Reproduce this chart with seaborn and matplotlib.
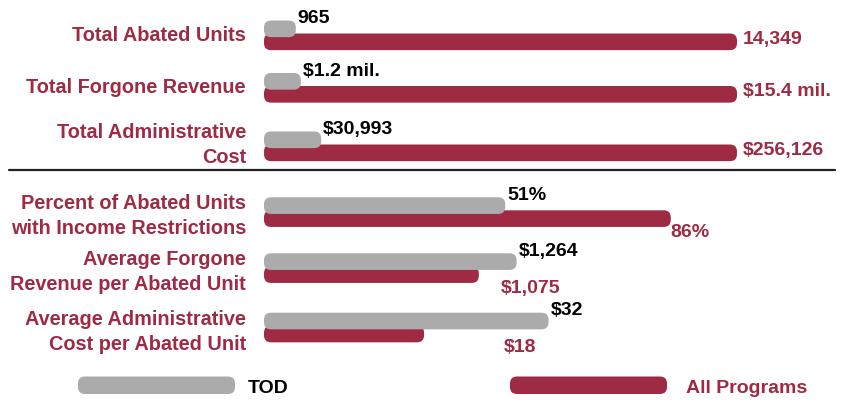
import matplotlib
matplotlib.use("Agg")
import matplotlib.pyplot as plt
import seaborn as sns
import pandas as pd
from matplotlib.patches import FancyBboxPatch
from matplotlib.lines import Line2D

# ---------------- data ----------------
metrics = [
    "Total Abated Units",
    "Total Forgone Revenue",
    "Total Administrative\nCost",
    "Percent of Abated Units\nwith Income Restrictions",
    "Average Forgone\nRevenue per Abated Unit",
    "Average Administrative\nCost per Abated Unit",
]
series = ["TOD", "All Programs"]
tod_values = [965, 1.2, 30993, 51, 1264, 32]
all_values = [14349, 15.4, 256126, 86, 1075, 18]
tod_labels = ["965", "$1.2 mil.", "$30,993", "51%", "$1,264", "$32"]
all_labels = ["14,349", "$15.4 mil.", "$256,126", "86%", "$1,075", "$18"]
# full-width value of each row's own x scale
row_scale_max = [14349, 15.4, 256126, 100, 2367, 53.2]

# ---------------- style ----------------
sns.set_theme(style="white")
plt.rcParams["font.family"] = ["Liberation Sans", "DejaVu Sans"]
plt.rcParams["font.weight"] = "bold"

W, H = 846, 403
GRAY = "#ababab"
RED = "#9e2a43"
FS = 14
FS_LAB = 14.3
AX_LEFT, AX_RIGHT = 264, 737
UNIT = 13.0          # px per category unit
BAR_W = 1.28         # bar thickness in category units (overlapping bars)
R_PX = 7             # corner radius in px
gray_tops = [20.5, 73, 131.5, 197.3, 253.3, 312.7]
label_dy = [0, 0, 1, -4, -4, -4]   # small vertical nudges (px, upward) for row labels
red_label_dx = [6, 6, 6, 0, 22, 80]

fig = plt.figure(figsize=(W / 100, H / 100), dpi=100)
fig.patch.set_facecolor("white")

h_units = 1 + BAR_W
h_px = h_units * UNIT
ax_w_px = AX_RIGHT - AX_LEFT

for i in range(len(metrics)):
    top = gray_tops[i]
    ax = fig.add_axes([AX_LEFT / W, 1 - (top + h_px) / H, ax_w_px / W, h_px / H])
    df = pd.DataFrame({"series": series, "value": [tod_values[i], all_values[i]]})
    sns.barplot(data=df, x="value", y="series", hue="series", order=series,
                hue_order=series, palette={"TOD": GRAY, "All Programs": RED},
                width=BAR_W, orient="h", legend=False, saturation=1, ax=ax,
                errorbar=None)
    xmax = row_scale_max[i]
    ax.set_xlim(0, xmax)
    ax.set_ylim(1 + BAR_W / 2, -BAR_W / 2)
    xper = xmax / ax_w_px
    yper = h_units / h_px
    # rounded bars
    for p in list(ax.patches):
        x, y, w, hh = p.get_x(), p.get_y(), p.get_width(), p.get_height()
        fc = p.get_facecolor()
        is_tod = abs(y + hh / 2) < 0.5
        p.remove()
        rp = FancyBboxPatch((x, y), w, hh,
                            boxstyle=f"round,pad=0,rounding_size={R_PX * xper}",
                            mutation_aspect=yper / xper, fc=fc, ec="none",
                            zorder=3 if is_tod else 2, clip_on=False)
        ax.add_patch(rp)
    ax.set_xlim(0, xmax)
    ax.set_ylim(1 + BAR_W / 2, -BAR_W / 2)
    ax.set_xticks([])
    ax.set_yticks([0.5 - label_dy[i] * yper])
    ax.set_yticklabels([metrics[i]], color=RED, fontsize=FS_LAB, fontweight="bold",
                       ha="right", va="center", linespacing=1.4)
    ax.tick_params(axis="y", length=0, pad=13)
    ax.set_xlabel("")
    ax.set_ylabel("")
    sns.despine(ax=ax, left=True, bottom=True)
    ax.patch.set_alpha(0)

    # value labels
    ax.annotate(tod_labels[i], xy=(tod_values[i], -BAR_W / 2), xytext=(2, -2.5),
                textcoords="offset pixels", ha="left", va="baseline",
                color="black", fontsize=FS, fontweight="bold",
                annotation_clip=False)
    if i < 3:
        ax.annotate(all_labels[i], xy=(all_values[i], 1), xytext=(red_label_dx[i], -2),
                    textcoords="offset pixels", ha="left", va="baseline",
                    color=RED, fontsize=FS, fontweight="bold", annotation_clip=False)
    else:
        ax.annotate(all_labels[i], xy=(all_values[i], 1 + BAR_W / 2),
                    xytext=(red_label_dx[i], -10), textcoords="offset pixels",
                    ha="left", va="baseline", color=RED, fontsize=FS,
                    fontweight="bold", annotation_clip=False)

# separator line
fig.add_artist(Line2D([9 / W, 835 / W], [1 - 170 / H, 1 - 170 / H],
                      transform=fig.transFigure, color="#222222", lw=1.6))

# legend
for x0, col, txt, tx, tcol in [(78, GRAY, "TOD", 248, "black"),
                               (510, RED, "All Programs", 686, RED)]:
    fig.add_artist(FancyBboxPatch((x0 / W, 1 - 394 / H), 157 / W, 17.5 / H,
                                  boxstyle=f"round,pad=0,rounding_size={R_PX / W}",
                                  mutation_aspect=W / H, fc=col, ec="none",
                                  transform=fig.transFigure))
    fig.text(tx / W, 1 - 393 / H, txt, color=tcol, fontsize=FS,
             fontweight="bold", ha="left", va="baseline")

fig.savefig("out.png", dpi=100, facecolor="white")
